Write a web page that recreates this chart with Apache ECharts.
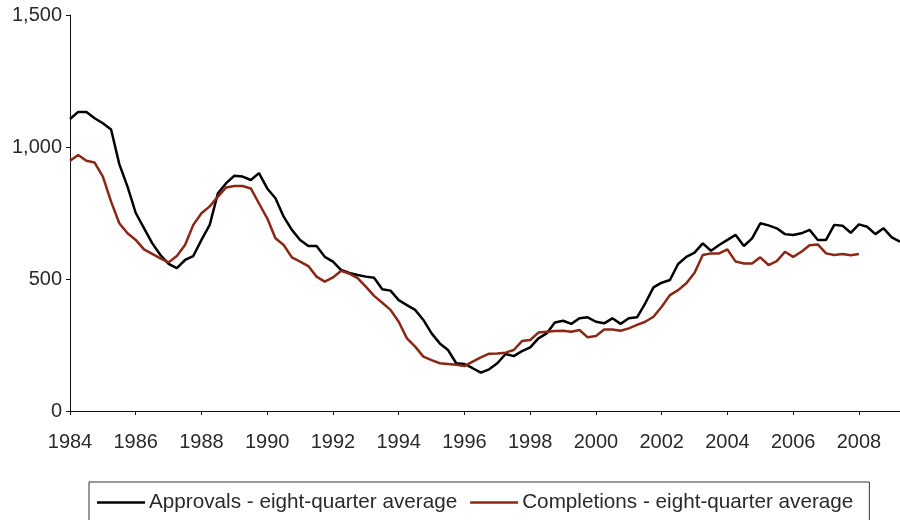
<!DOCTYPE html>
<html>
<head>
<meta charset="utf-8">
<script src="https://cdn.jsdelivr.net/npm/echarts@6/dist/echarts.min.js"></script>
<style>
  html, body { margin: 0; padding: 0; background: #fff; }
  #chart { width: 900px; height: 520px; }
</style>
</head>
<body>
<div id="chart"></div>
<script>
// years shown on the axis (one category per quarter, 1984 Q1 - 2009 Q2)
const years = [1984, 1985, 1986, 1987, 1988, 1989, 1990, 1991, 1992, 1993, 1994, 1995, 1996,
  1997, 1998, 1999, 2000, 2001, 2002, 2003, 2004, 2005, 2006, 2007, 2008, 2009]
const quarters = ['Q1', 'Q2', 'Q3', 'Q4']

// eight-quarter averages
const approvals = [
  1106, 1133, 1133, 1109, 1090, 1066, 935, 850, 750, 693, 636, 591, 557, 541, 572, 587,
  648, 705, 825, 863, 891, 888, 875, 901, 843, 806, 736, 686, 648, 625, 625, 584,
  566, 534, 523, 515, 509, 505, 461, 456, 420, 401, 383, 345, 294, 256, 231, 181,
  178, 162, 145, 158, 181, 216, 208, 227, 241, 275, 294, 335, 342, 330, 351, 355,
  338, 332, 351, 330, 351, 355, 408, 468, 486, 496, 557, 584, 600, 635, 607, 629,
  648, 667, 625, 654, 711, 703, 692, 670, 667, 673, 686, 648, 648, 705, 702, 675,
  707, 698, 670, 692, 658, 641
]
const completions = [
  948, 970, 948, 941, 888, 793, 711, 673, 648, 612, 595, 578, 563, 587, 629, 705,
  749, 775, 812, 847, 852, 852, 843, 786, 730, 654, 629, 582, 566, 549, 509, 490,
  506, 531, 520, 503, 471, 436, 410, 383, 338, 275, 244, 206, 193, 181, 178, 175,
  170, 187, 203, 217, 218, 221, 231, 265, 269, 297, 300, 303, 304, 300, 307, 279,
  284, 309, 309, 304, 313, 326, 338, 357, 395, 439, 458, 484, 524, 591, 597, 597,
  612, 566, 559, 559, 582, 553, 568, 603, 584, 603, 628, 631, 597, 591, 595, 590,
  595
]

const categories = []
years.forEach(y => {
  quarters.forEach(q => {
    if (categories.length < approvals.length) categories.push(y + ' ' + q)
  })
})

const textColor = '#2a2a2a'
const font = 'Liberation Sans'
const red = '#8c2716'

const chart = echarts.init(document.getElementById('chart'))
chart.setOption({
  animation: false,
  grid: { left: 70, right: 0, top: 15, bottom: 109 },
  legend: {
    left: 89,
    top: 482,
    icon: 'rect',
    itemWidth: 48,
    itemHeight: 2.5,
    itemGap: 13,
    padding: [10, 16, 13, 8],
    borderColor: '#333',
    borderWidth: 1,
    textStyle: { fontSize: 20.7, color: textColor, fontFamily: font, padding: [0, 0, 0, -1] },
    data: ['Approvals - eight-quarter average', 'Completions - eight-quarter average']
  },
  xAxis: {
    type: 'category',
    data: categories,
    boundaryGap: false,
    axisLine: { lineStyle: { color: '#111', width: 1 } },
    axisTick: { interval: 7, length: 4, lineStyle: { color: '#111' } },
    axisLabel: {
      interval: 7,
      margin: 21,
      fontSize: 20,
      color: textColor,
      fontFamily: font,
      formatter: v => v.slice(0, 4)
    },
    splitLine: { show: false }
  },
  yAxis: {
    type: 'value',
    min: 0,
    max: 1500,
    interval: 500,
    axisLine: { show: true, lineStyle: { color: '#111', width: 1 } },
    axisTick: { show: true, length: 4, lineStyle: { color: '#111' } },
    axisLabel: {
      margin: 8,
      fontSize: 20,
      color: textColor,
      fontFamily: font,
      formatter: v => v.toLocaleString('en-US')
    },
    splitLine: { show: false }
  },
  series: [
    {
      name: 'Approvals - eight-quarter average',
      type: 'line',
      data: approvals,
      symbol: 'none',
      color: '#000',
      lineStyle: { color: '#000', width: 2.5 }
    },
    {
      name: 'Completions - eight-quarter average',
      type: 'line',
      data: completions,
      symbol: 'none',
      color: red,
      lineStyle: { color: red, width: 2.5 }
    }
  ]
})
</script>
</body>
</html>
